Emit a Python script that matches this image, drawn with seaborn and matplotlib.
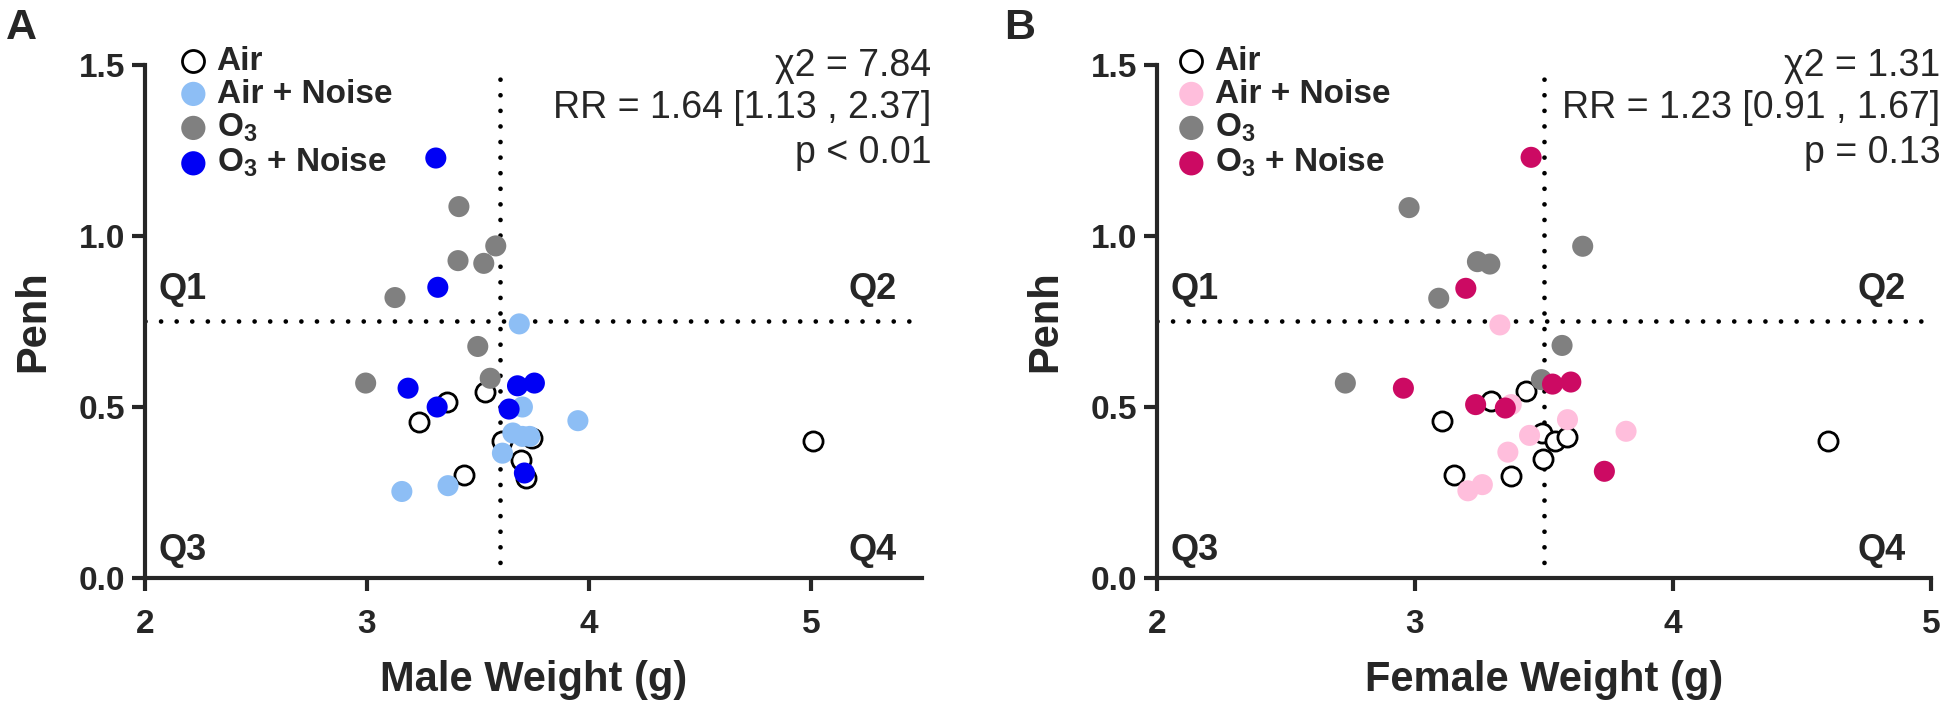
import matplotlib
matplotlib.use('Agg')
import matplotlib.pyplot as plt
import matplotlib.transforms as mtransforms
import seaborn as sns

# --- data (Penh vs body weight) ---
male_air_x = [3.53, 3.36, 3.235, 3.61, 3.745, 3.695, 3.715, 3.435, 5.01]
male_air_y = [0.545, 0.515, 0.455, 0.40, 0.408, 0.345, 0.293, 0.30, 0.40]
male_airnoise_x = [3.686, 3.70, 3.95, 3.657, 3.70, 3.733, 3.61, 3.365, 3.157]
male_airnoise_y = [0.743, 0.50, 0.46, 0.424, 0.414, 0.414, 0.365, 0.27, 0.253]
male_o3_x = [3.414, 3.58, 3.41, 3.526, 3.126, 3.499, 2.994, 3.555]
male_o3_y = [1.086, 0.971, 0.928, 0.92, 0.82, 0.677, 0.57, 0.584]
male_o3noise_x = [3.31, 3.319, 3.185, 3.678, 3.754, 3.316, 3.64, 3.709]
male_o3noise_y = [1.228, 0.85, 0.555, 0.562, 0.57, 0.50, 0.494, 0.307]

female_air_x = [3.43, 3.293, 3.105, 3.492, 3.542, 3.588, 3.495, 3.152, 3.373, 4.6]
female_air_y = [0.547, 0.518, 0.458, 0.424, 0.40, 0.411, 0.349, 0.302, 0.299, 0.40]
female_airnoise_x = [3.329, 3.373, 3.591, 3.818, 3.444, 3.36, 3.205, 3.261]
female_airnoise_y = [0.74, 0.507, 0.463, 0.429, 0.417, 0.368, 0.255, 0.273]
female_o3_x = [2.977, 3.242, 3.29, 3.092, 3.65, 3.57, 2.73, 3.49]
female_o3_y = [1.083, 0.925, 0.918, 0.818, 0.97, 0.68, 0.57, 0.58]
female_o3noise_x = [3.45, 3.197, 2.955, 3.235, 3.35, 3.533, 3.604, 3.734]
female_o3noise_y = [1.23, 0.847, 0.555, 0.507, 0.497, 0.567, 0.573, 0.312]

group_labels = ['Air', 'Air + Noise', 'O$_3$', 'O$_3$ + Noise']
male_colors = ['white', '#8DBEF5', '#808080', '#0000F5']
female_colors = ['white', '#FFBEDC', '#808080', '#CC0A63']

male_stats = ['\u03c72 = 7.84', 'RR = 1.64 [1.13 , 2.37]', 'p < 0.01']
female_stats = ['\u03c72 = 1.31', 'RR = 1.23 [0.91 , 1.67]', 'p = 0.13']

sns.set_style('ticks')
plt.rcParams['font.family'] = ['Liberation Sans', 'DejaVu Sans']
plt.rcParams['mathtext.fontset'] = 'custom'
plt.rcParams['mathtext.rm'] = 'Liberation Sans:bold'
plt.rcParams['mathtext.it'] = 'Liberation Sans:bold'
plt.rcParams['mathtext.bf'] = 'Liberation Sans:bold'
plt.rcParams['mathtext.default'] = 'rm'

W, H = 1946, 705
fig = plt.figure(figsize=(W / 100, H / 100), dpi=100)
axA = fig.add_axes([145 / W, 1 - 578 / H, 777 / W, 513 / H])
axB = fig.add_axes([1157 / W, 1 - 578 / H, 774 / W, 513 / H])


def draw_panel(ax, xs, ys, colors, xmax, xcut, xlabel, stats, letter, letter_x):
    for i, (x, y) in enumerate(zip(xs, ys)):
        if i == 0:
            sns.scatterplot(x=x, y=y, ax=ax, s=190, color='white', edgecolor='black',
                            linewidth=2.0, label=group_labels[i], zorder=3 + i, clip_on=False)
        else:
            sns.scatterplot(x=x, y=y, ax=ax, s=230, color=colors[i], edgecolor='none',
                            linewidth=0, label=group_labels[i], zorder=3 + i, clip_on=False)

    ax.set_xlim(2, xmax)
    ax.set_ylim(0, 1.5)
    ax.set_xticks(range(2, int(xmax) + 1))
    ax.set_yticks([0, 0.5, 1.0, 1.5])
    ax.set_yticklabels(['0.0', '0.5', '1.0', '1.5'])

    dots = dict(color='black', lw=3.4, ls=(0, (0.001, 3.3)), dash_capstyle='round', zorder=2)
    ax.axvline(xcut, **dots)
    ax.axhline(0.75, **dots)

    sns.despine(ax=ax)
    for s in ['left', 'bottom']:
        ax.spines[s].set_linewidth(3)
    ax.tick_params(width=3, length=9.5, labelsize=24)
    ax.tick_params(axis='x', pad=13)
    ax.tick_params(axis='y', pad=5)
    for lbl in ax.get_xticklabels() + ax.get_yticklabels():
        lbl.set_fontweight('bold')

    ax.set_xlabel(xlabel, fontsize=30, fontweight='bold')
    ax.set_ylabel('Penh', fontsize=30, fontweight='bold')
    ax.xaxis.set_label_coords(0.5, -0.16)
    ax.yaxis.set_label_coords(-0.118, 0.5)

    tr = mtransforms.blended_transform_factory(ax.transAxes, ax.transData)
    for txt, yy in zip(stats, [1.497, 1.374, 1.243]):
        ax.text(1.012, yy, txt, transform=tr, ha='right', va='center', fontsize=27)

    qfont = dict(fontsize=26, fontweight='bold', transform=tr, va='baseline')
    ax.text(0.018, 0.815, 'Q1', ha='left', **qfont)
    ax.text(0.967, 0.815, 'Q2', ha='right', **qfont)
    ax.text(0.018, 0.052, 'Q3', ha='left', **qfont)
    ax.text(0.967, 0.052, 'Q4', ha='right', **qfont)

    ax.legend(loc='upper left', bbox_to_anchor=(letter_x + 160 / W, 1 - 29 / H),
              bbox_transform=fig.transFigure, frameon=False, borderpad=0,
              handlelength=1.0, handletextpad=0.2, labelspacing=0.06, markerscale=1.15,
              prop={'weight': 'bold', 'size': 24})

    fig.text(letter_x + 6 / W, 1 - 8 / H, letter, fontsize=31, fontweight='bold',
             ha='left', va='top')


draw_panel(axA,
           [male_air_x, male_airnoise_x, male_o3_x, male_o3noise_x],
           [male_air_y, male_airnoise_y, male_o3_y, male_o3noise_y],
           male_colors, 5.5, 3.6, 'Male Weight (g)', male_stats, 'A', 0.0)
draw_panel(axB,
           [female_air_x, female_airnoise_x, female_o3_x, female_o3noise_x],
           [female_air_y, female_airnoise_y, female_o3_y, female_o3noise_y],
           female_colors, 5, 3.5, 'Female Weight (g)', female_stats, 'B', 1004 / W - 6 / W)

fig.savefig('out.png', dpi=100)
